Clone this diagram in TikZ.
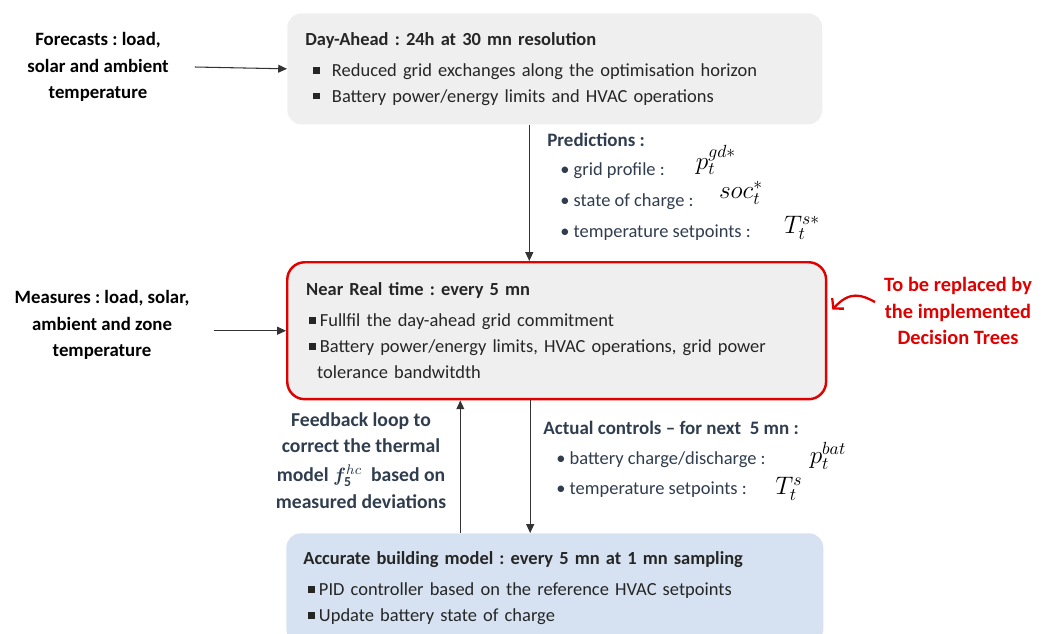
\documentclass[tikz,border=0pt]{standalone}
\usepackage{fontspec}
\setmainfont{Carlito}
\usepackage{bm}
\usetikzlibrary{arrows.meta,calc}
\frenchspacing

\definecolor{boxgray}{HTML}{EFEFEF}
\definecolor{boxblue}{HTML}{D6E2F1}
\definecolor{nrtred}{HTML}{E00000}
\definecolor{slate}{HTML}{2F3D4E}
\definecolor{bodytext}{HTML}{262626}
\newcommand\sqb{\raisebox{0.15em}{\rule{0.36em}{0.36em}}}

\begin{document}
\begin{tikzpicture}[x=0.02cm, y=-0.02cm, >={Triangle[length=5pt,width=4.5pt]},
  font=\fontsize{10.5}{14.7}\selectfont,
  stage/.style={rounded corners=8pt, anchor=north west, align=left, text=bodytext},
  side/.style={font=\fontsize{10.7}{15}\selectfont\bfseries, align=center},
  info/.style={text=slate, anchor=west, inner sep=0pt},
  sym/.style={font=\fontsize{14}{16}\selectfont, inner sep=0pt},
  link/.style={->, black!80, line width=0.6pt}]
  \useasboundingbox (0,0) rectangle (1047,633);
  \clip (0,0) rectangle (1047,633);

  \node[stage, fill=boxgray, minimum width=10.7cm, minimum height=2.22cm,
        inner xsep=0.36cm, text width=9.98cm] (dayahead) at (287,13)
    {\textbf{Day-Ahead : 24h at 30 mn resolution}\\[3pt]
     \hspace*{0.16cm}\sqb\hspace{0.24cm}Reduced grid exchanges along the optimisation horizon\\
     \hspace*{0.16cm}\sqb\hspace{0.24cm}Battery power/energy limits and HVAC operations};
  \node[stage, fill=boxgray, draw=nrtred, line width=1.4pt, rounded corners=10pt,
        minimum width=10.78cm, minimum height=2.74cm,
        inner xsep=0.38cm, text width=10.02cm] (nearrt) at (286,261)
    {\textbf{Near Real time : every 5 mn}\\[3pt]
     \hspace*{0.06cm}\sqb\hspace{0.08cm}Fullfil the day-ahead grid commitment\\
     \hspace*{0.06cm}\sqb\hspace{0.08cm}Battery power/energy limits, HVAC operations, grid power\\
     \hspace*{0.22cm}tolerance bandwitdth};
  \node[stage, fill=boxblue, minimum width=10.74cm, minimum height=2.2cm,
        inner xsep=0.34cm, text width=10.06cm] (building) at (286,533)
    {\textbf{Accurate building model : every 5 mn at 1 mn sampling}\\[3pt]
     \hspace*{0.1cm}\sqb\hspace{0.08cm}PID controller based on the reference HVAC setpoints\\
     \hspace*{0.1cm}\sqb\hspace{0.08cm}Update battery state of charge};

  \node[side] (forecasts) at (98,67) {Forecasts : load,\\ solar and ambient\\ temperature};
  \node[side] (measures) at (102,325) {Measures : load, solar,\\ ambient and zone\\ temperature};
  \node[side, text=slate, font=\fontsize{11.2}{14.6}\selectfont\bfseries] (feedback) at (361,461)
    {Feedback loop to\\ correct the thermal\\[2pt] model $\bm{f}_{\mathbf{5}}^{hc}$\ \ based on\\[1pt] measured deviations};
  \node[side, text=nrtred, font=\fontsize{11.6}{15}\selectfont\bfseries] (replaced) at (958,311)
    {To be replaced by\\ the implemented\\ Decision Trees};

  \node[info, font=\fontsize{10.8}{14}\selectfont\bfseries] (predictions) at (547,140) {Predictions :};
  \node[info] (gridprof) at (560,171) {\textbullet\ grid profile :};
  \node[info] (soc) at (560,202) {\textbullet\ state of charge :};
  \node[info] (setpts) at (560,233) {\textbullet\ temperature setpoints :};
  \node[sym] (pgd) at (716,160) {$p_t^{gd*}$};
  \node[sym] (socs) at (741,193) {$soc_t^*$};
  \node[sym] (tss) at (802,228) {$T_t^{s*}$};

  \node[info, font=\fontsize{10.8}{14}\selectfont\bfseries] (controls) at (543,428) {Actual controls -- for next\ \ 5 mn :};
  \node[info] (battery) at (556,460) {\textbullet\ battery charge/discharge :};
  \node[info] (setnext) at (556,490) {\textbullet\ temperature setpoints :};
  \node[sym] (pbat) at (828,456) {$p_t^{bat}$};
  \node[sym] (ts) at (789,489) {$T_t^s$};

  \draw[link] ($(forecasts.east)+(20,0)$) -- (dayahead.west);
  \draw[link] ($(measures.east |- nearrt.west)+(18,0)$) -- (nearrt.west);
  \coordinate (down1) at ($(dayahead.south)+(-25.5,0)$);
  \draw[link] (down1) -- (down1 |- nearrt.north);
  \coordinate (down2) at ($(nearrt.south)+(-26.5,0)$);
  \draw[link] (down2) -- (down2 |- building.north);
  \coordinate (up1) at ($(building.north)+(-94.5,0)$);
  \draw[link] (up1) -- (up1 |- nearrt.south);
  \coordinate (curl) at (875,302);
  \draw[nrtred, line width=1.3pt, -{Straight Barb[length=4pt,width=9pt]}]
    (curl) .. controls (862,295) and (850,290) .. ($(nearrt.east)+(5,-21)$);
\end{tikzpicture}
\end{document}
